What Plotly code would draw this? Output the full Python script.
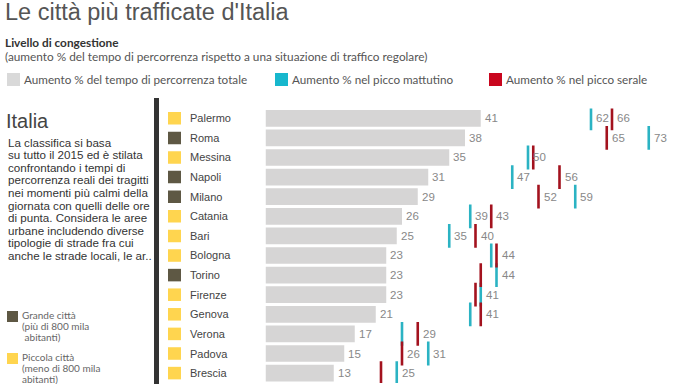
import plotly.graph_objects as go

W, H = 684, 384

# ---- data ----
citta = ["Palermo", "Roma", "Messina", "Napoli", "Milano", "Catania", "Bari",
         "Bologna", "Torino", "Firenze", "Genova", "Verona", "Padova", "Brescia"]
totale = [41, 38, 35, 31, 29, 26, 25, 23, 23, 23, 21, 17, 15, 13]
mattina = [62, 73, 50, 47, 59, 39, 35, 43, 44, 41, 39, 26, 31, 25]
sera = [66, 65, 51, 56, 52, 43, 40, 44, 41, 40, 41, 29, 26, 22]
grande = [False, True, False, True, True, False, False, False, True, False, False, False, False, False]
mostra_mattina = [1, 1, 1, 1, 1, 1, 1, 0, 1, 1, 0, 0, 1, 1]
mostra_sera = [1, 1, 0, 1, 1, 1, 1, 1, 0, 0, 1, 1, 1, 0]

titolo = "Le città più trafficate d'Italia"
sottotitolo = "Livello di congestione"
sottotitolo2 = "(aumento % del tempo di percorrenza rispetto a una situazione di traffico regolare)"
legenda = ["Aumento % del tempo di percorrenza totale",
           "Aumento % nel picco mattutino",
           "Aumento % nel picco serale"]
paragrafo = ["La classifica si basa",
             "su tutto il 2015 ed è stilata",
             "confrontando i tempi di",
             "percorrenza reali dei tragitti",
             "nei momenti più calmi della",
             "giornata con quelli delle ore",
             "di punta. Considera le aree",
             "urbane includendo diverse",
             "tipologie di strade fra cui",
             "anche le strade locali, le ar.."]
leg_grande = ["Grande città", "(più di 800 mila", " abitanti)"]
leg_piccola = ["Piccola città", "(meno di 800 mila", "abitanti)"]

# ---- styles ----
GRIGIO = "#d6d5d5"
CIANO = "#2bb3c3"
ROSSO = "#a3121e"
GIALLO = "#ffd54f"
SCURO = "#5e5844"
ARIAL = "Liberation Sans, Arial, sans-serif"
LATO = "Lato, sans-serif"

def px(x):
    return x / W

def py(y):
    return 1 - y / H

n = len(citta)
ypos = list(range(n))

fig = go.Figure()
fig.add_trace(go.Bar(x=totale, y=ypos, orientation="h", width=0.85,
                     marker=dict(color=GRIGIO, line=dict(width=0)),
                     hoverinfo="skip"))
fig.add_trace(go.Scatter(x=mattina, y=ypos, mode="markers",
                         marker=dict(symbol="line-ns", size=17,
                                     line=dict(color=CIANO, width=2.6)),
                         hoverinfo="skip"))
fig.add_trace(go.Scatter(x=sera, y=ypos, mode="markers",
                         marker=dict(symbol="line-ns", size=17,
                                     line=dict(color=ROSSO, width=2.6)),
                         hoverinfo="skip"))

ann = []
shapes = []

# value labels
for i in range(n):
    ann.append(dict(x=totale[i], y=i, xref="x", yref="y", text=str(totale[i]),
                    showarrow=False, xanchor="left", yanchor="middle", xshift=2,
                    font=dict(family=ARIAL, size=11.5, color="#888888")))
    if mostra_mattina[i]:
        ann.append(dict(x=mattina[i], y=i, xref="x", yref="y", text=str(mattina[i]),
                        showarrow=False, xanchor="left", yanchor="middle", xshift=3,
                        font=dict(family=ARIAL, size=11.5, color="#888888")))
    if mostra_sera[i]:
        ann.append(dict(x=sera[i], y=i, xref="x", yref="y", text=str(sera[i]),
                        showarrow=False, xanchor="left", yanchor="middle", xshift=3,
                        font=dict(family=ARIAL, size=11.5, color="#888888")))
    # city squares and names
    shapes.append(dict(type="rect", xref="paper", yref="y",
                       x0=px(168), x1=px(181), y0=i - 0.32, y1=i + 0.32,
                       fillcolor=SCURO if grande[i] else GIALLO, line=dict(width=0)))
    ann.append(dict(x=px(188), y=i, xref="paper", yref="y", text=citta[i],
                    showarrow=False, xanchor="left", yanchor="middle",
                    font=dict(family=ARIAL, size=11, color="#444444")))

# dark vertical separator
shapes.append(dict(type="rect", xref="paper", yref="paper",
                   x0=px(154), x1=px(159), y0=0, y1=py(98),
                   fillcolor="#333333", line=dict(width=0)))

# title and subtitles
ann.append(dict(x=px(3), y=py(12), xref="paper", yref="paper", text=titolo,
                showarrow=False, xanchor="left", yanchor="middle",
                font=dict(family=ARIAL, size=23.5, color="#555555")))
ann.append(dict(x=px(3), y=py(42), xref="paper", yref="paper", text="<b>" + sottotitolo + "</b>",
                showarrow=False, xanchor="left", yanchor="middle",
                font=dict(family=LATO, size=11.8, color="#333333")))
ann.append(dict(x=px(3), y=py(56), xref="paper", yref="paper", text=sottotitolo2,
                showarrow=False, xanchor="left", yanchor="middle",
                font=dict(family=LATO, size=11.8, color="#555555")))

# top legend
leg_x = [7, 275, 489]
leg_col = ["#d9d9d9", "#17b7cd", "#c9061e"]
for lx, lc, lt in zip(leg_x, leg_col, legenda):
    shapes.append(dict(type="rect", xref="paper", yref="paper",
                       x0=px(lx), x1=px(lx + 13), y0=py(86), y1=py(73),
                       fillcolor=lc, line=dict(width=0)))
    ann.append(dict(x=px(lx + 15), y=py(79), xref="paper", yref="paper", text=lt,
                    showarrow=False, xanchor="left", yanchor="middle",
                    font=dict(family=LATO, size=11.7, color="#555555")))

# left panel
ann.append(dict(x=px(4), y=py(121), xref="paper", yref="paper", text="Italia",
                showarrow=False, xanchor="left", yanchor="middle",
                font=dict(family=ARIAL, size=20, color="#444444")))
for k, riga in enumerate(paragrafo):
    ann.append(dict(x=px(6), y=py(142 + k * 12.6), xref="paper", yref="paper", text=riga,
                    showarrow=False, xanchor="left", yanchor="middle",
                    font=dict(family=ARIAL, size=11.6, color="#333333")))

# size legend
for y0, col, righe in [(311, SCURO, leg_grande), (353, GIALLO, leg_piccola)]:
    shapes.append(dict(type="rect", xref="paper", yref="paper",
                       x0=px(7), x1=px(18), y0=py(y0 + 11), y1=py(y0),
                       fillcolor=col, line=dict(width=0)))
    for k, r in enumerate(righe):
        ann.append(dict(x=px(20), y=py(y0 + 4 + k * 11), xref="paper", yref="paper", text=r,
                        showarrow=False, xanchor="left", yanchor="middle",
                        font=dict(family=LATO, size=10, color="#666666")))

fig.update_layout(
    width=W, height=H, autosize=False,
    margin=dict(l=0, r=0, t=0, b=0),
    paper_bgcolor="white", plot_bgcolor="white",
    showlegend=False,
    xaxis=dict(domain=[265.5 / W, 1], range=[0, (W - 265.5) / 5.25],
               showgrid=False, zeroline=False, showticklabels=False, showline=False),
    yaxis=dict(domain=[py(382.9), py(108.5)], range=[n - 0.5, -0.5],
               showgrid=False, zeroline=False, showticklabels=False, showline=False),
    annotations=ann, shapes=shapes,
)

fig.write_html("out.html", config={"displayModeBar": False},
               post_script="document.body.style.margin='0';document.body.style.overflow='hidden';")
